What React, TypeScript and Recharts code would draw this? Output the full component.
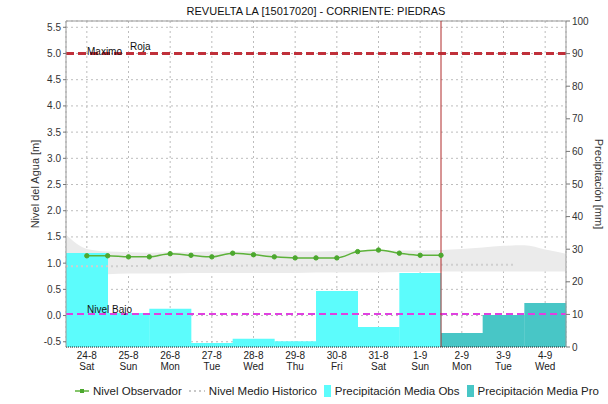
import React from 'react';
import { ComposedChart, Bar, Line, Area, XAxis, YAxis, CartesianGrid, ReferenceLine } from 'recharts';

const FONT = "'Liberation Sans', Arial, sans-serif";

const days = ['24-8', '25-8', '26-8', '27-8', '28-8', '29-8', '30-8', '31-8', '1-9', '2-9', '3-9', '4-9'];
const weekdays = ['Sat', 'Sun', 'Mon', 'Tue', 'Wed', 'Thu', 'Fri', 'Sat', 'Sun', 'Mon', 'Tue', 'Wed'];
const precipObs = [28.8, 10.4, 11.7, 1.2, 2.5, 1.8, 17.2, 6.1, 22.7, 0, 0, 0];
const precipPro = [0, 0, 0, 0, 0, 0, 0, 0, 0, 4.3, 9.8, 13.5];

// observed level, every 12 h (time in days from 24-8 00:00)
const obsTimes = [0.5, 1, 1.5, 2, 2.5, 3, 3.5, 4, 4.5, 5, 5.5, 6, 6.5, 7, 7.5, 8, 8.5, 9];
const obsLevel = [1.14, 1.14, 1.12, 1.12, 1.18, 1.15, 1.12, 1.19, 1.16, 1.12, 1.1, 1.1, 1.1, 1.22, 1.25, 1.19, 1.15, 1.15];

// historic band
const histTimes = [0, 0.5, 1, 1.5, 2, 2.5, 3, 3.5, 4, 4.5, 5, 5.5, 6, 6.5, 7, 7.5, 8, 8.5, 9, 9.5, 10, 10.5, 11, 11.5, 12];
const histMax = [1.54, 1.27, 1.22, 1.21, 1.2, 1.21, 1.21, 1.22, 1.22, 1.23, 1.23, 1.22, 1.22, 1.23, 1.24, 1.24, 1.24, 1.24, 1.25, 1.27, 1.3, 1.33, 1.34, 1.26, 1.18];
const histMin = [0.77, 0.78, 0.79, 0.8, 0.8, 0.8, 0.81, 0.81, 0.81, 0.81, 0.81, 0.81, 0.82, 0.82, 0.82, 0.82, 0.83, 0.83, 0.84, 0.84, 0.84, 0.84, 0.84, 0.84, 0.84];

// historic mean level
const meanTimes = [0, 1, 2, 3, 4, 5, 6, 7, 8, 9, 10, 10.8];
const meanLevel = [0.94, 0.94, 0.95, 0.95, 0.95, 0.96, 0.96, 0.97, 0.97, 0.97, 0.97, 0.97];

const leftTicks = [-0.5, 0, 0.5, 1, 1.5, 2, 2.5, 3, 3.5, 4, 4.5, 5, 5.5];
const rightTicks = [0, 10, 20, 30, 40, 50, 60, 70, 80, 90, 100];

const maxLevel = 5.0;
const lowLevel = 0.03;
const nowTime = 9;

const rows = days.map((d, i) => ({ day: d, obs: precipObs[i], pro: precipPro[i] }));
const obsData = obsTimes.map((t, i) => ({ t, v: obsLevel[i] }));
const bandData = histTimes.map((t, i) => ({ t, range: [histMin[i], histMax[i]] }));
const meanData = meanTimes.map((t, i) => ({ t, m: meanLevel[i] }));

const XTick = (props: any) => {
  const { x, y, payload } = props;
  const i = days.indexOf(payload.value);
  return (
    <g>
      <text x={x} y={y + 12} textAnchor="middle" fontSize={10} fill="#222" fontFamily={FONT}>{payload.value}</text>
      <text x={x} y={y + 23} textAnchor="middle" fontSize={10} fill="#222" fontFamily={FONT}>{weekdays[i]}</text>
    </g>
  );
};

const MaxLabel = (props: any) => {
  const vb = props.viewBox || {};
  return (
    <g>
      <text x={vb.x + 21} y={vb.y + 2} fontSize={10} fill="#111" fontFamily={FONT}>Maximo</text>
      <text x={vb.x + 64} y={vb.y - 3} fontSize={10} fill="#111" fontFamily={FONT}>Roja</text>
    </g>
  );
};

const LowLabel = (props: any) => {
  const vb = props.viewBox || {};
  return (
    <text x={vb.x + 21} y={vb.y - 1} fontSize={10} fill="#111" fontFamily={FONT}>Nivel Bajo</text>
  );
};

const legendItems = [
  { name: 'Nivel Observador', kind: 'obs' },
  { name: 'Nivel Medio Historico', kind: 'mean' },
  { name: 'Precipitación Media Obs', kind: 'pobs' },
  { name: 'Precipitación Media Pro', kind: 'ppro' },
];

const LegendIcon = ({ kind }: { kind: string }) => {
  if (kind === 'obs') {
    return (
      <svg width={14} height={12} style={{ marginRight: 4 }}>
        <line x1={0} y1={6} x2={14} y2={6} stroke="#5DB23A" strokeWidth={1.5} />
        <rect x={5} y={4} width={4} height={4} fill="#4CA82E" />
      </svg>
    );
  }
  if (kind === 'mean') {
    return (
      <svg width={16} height={12} style={{ marginRight: 4 }}>
        <line x1={0} y1={6} x2={16} y2={6} stroke="#C8C8C8" strokeWidth={2} strokeDasharray="2 3" />
      </svg>
    );
  }
  return (
    <svg width={7} height={12} style={{ marginRight: 4 }}>
      <rect x={0} y={0} width={7} height={12} fill={kind === 'pobs' ? '#5CFCFC' : '#48C6C6'} />
    </svg>
  );
};

export default function App() {
  return (
    <div style={{ position: 'absolute', left: 0, top: 0, width: 608, height: 404, background: '#fff', fontFamily: FONT }}>
      <ComposedChart
        width={608}
        height={404}
        data={rows}
        margin={{ top: 21, right: 0, bottom: 0, left: 0 }}
        barCategoryGap={0}
        barGap={0}
      >
        <CartesianGrid xAxisId="cat" yAxisId="left" stroke="#BDBDBD" strokeDasharray="2 3" />
        <XAxis
          xAxisId="cat"
          dataKey="day"
          height={57}
          tick={<XTick />}
          tickLine={false}
          tickSize={0}
          tickMargin={0}
          interval={0}
          axisLine={{ stroke: '#222', strokeDasharray: '1 1' }}
        />
        <XAxis xAxisId="t" type="number" dataKey="t" domain={[0, 12]} allowDataOverflow hide />
        <YAxis
          yAxisId="left"
          orientation="left"
          width={66}
          domain={[-0.6, 5.62]}
          allowDataOverflow
          ticks={leftTicks}
          interval={0}
          tickFormatter={(v: number) => v.toFixed(1)}
          tick={{ fontSize: 10, fill: '#333', fontFamily: FONT }}
          tickSize={3}
          tickMargin={2}
          axisLine={{ stroke: '#999' }}
          tickLine={{ stroke: '#777' }}
        />
        <YAxis
          yAxisId="right"
          orientation="right"
          width={42}
          domain={[0, 100]}
          allowDataOverflow
          ticks={rightTicks}
          interval={0}
          tick={{ fontSize: 10, fill: '#333', fontFamily: FONT }}
          tickSize={4}
          tickMargin={2}
          axisLine={{ stroke: '#999' }}
          tickLine={{ stroke: '#777' }}
        />
        <Area
          data={bandData}
          xAxisId="t"
          yAxisId="left"
          dataKey="range"
          type="monotone"
          fill="#EBEBEB"
          fillOpacity={1}
          stroke="none"
          isAnimationActive={false}
          dot={false}
          activeDot={false}
        />
        <Bar xAxisId="cat" yAxisId="right" dataKey="obs" stackId="p" fill="#5CFCFC" isAnimationActive={false} />
        <Bar xAxisId="cat" yAxisId="right" dataKey="pro" stackId="p" fill="#48C6C6" isAnimationActive={false} />
        <Line
          data={meanData}
          xAxisId="t"
          yAxisId="left"
          dataKey="m"
          type="linear"
          stroke="#CFCFCF"
          strokeWidth={2}
          strokeDasharray="2 3"
          dot={false}
          activeDot={false}
          isAnimationActive={false}
        />
        <Line
          data={obsData}
          xAxisId="t"
          yAxisId="left"
          dataKey="v"
          type="monotone"
          stroke="#5DB23A"
          strokeWidth={1.5}
          dot={{ r: 2.2, fill: '#4CA82E', stroke: '#4CA82E', strokeWidth: 1 }}
          activeDot={false}
          isAnimationActive={false}
        />
        <ReferenceLine xAxisId="t" yAxisId="left" y={5.62} stroke="#999" strokeWidth={1} />
        <ReferenceLine xAxisId="t" yAxisId="left" y={lowLevel} stroke="#E040E0" strokeWidth={2} strokeDasharray="7 4" label={LowLabel} />
        <ReferenceLine xAxisId="t" yAxisId="left" y={maxLevel} stroke="#C0303A" strokeWidth={3} strokeDasharray="8 4" label={MaxLabel} />
        <ReferenceLine xAxisId="t" yAxisId="left" x={nowTime} stroke="#B02A2A" strokeWidth={1} />
      </ComposedChart>

      <div style={{ position: 'absolute', left: 66, top: 4, width: 500, textAlign: 'center', fontSize: 11, color: '#111', lineHeight: '14px' }}>
        REVUELTA LA [15017020] - CORRIENTE: PIEDRAS
      </div>

      <svg width={608} height={404} style={{ position: 'absolute', left: 0, top: 0, pointerEvents: 'none' }}>
        <text transform="translate(35,184) rotate(-90)" textAnchor="middle" dominantBaseline="central" fontSize={11} fill="#333" fontFamily={FONT}>Nivel del Agua [m]</text>
        <text transform="translate(599,184) rotate(90)" textAnchor="middle" dominantBaseline="central" fontSize={11} fill="#333" fontFamily={FONT}>Precipitación [mm]</text>
      </svg>

      <div style={{ position: 'absolute', left: 75, top: 384, display: 'flex', alignItems: 'center', fontSize: 11.5, color: '#222', whiteSpace: 'nowrap', lineHeight: '14px' }}>
        {legendItems.map((it) => (
          <div key={it.name} style={{ display: 'flex', alignItems: 'center', marginRight: 7 }}>
            <LegendIcon kind={it.kind} />
            <span>{it.name}</span>
          </div>
        ))}
      </div>
    </div>
  );
}
